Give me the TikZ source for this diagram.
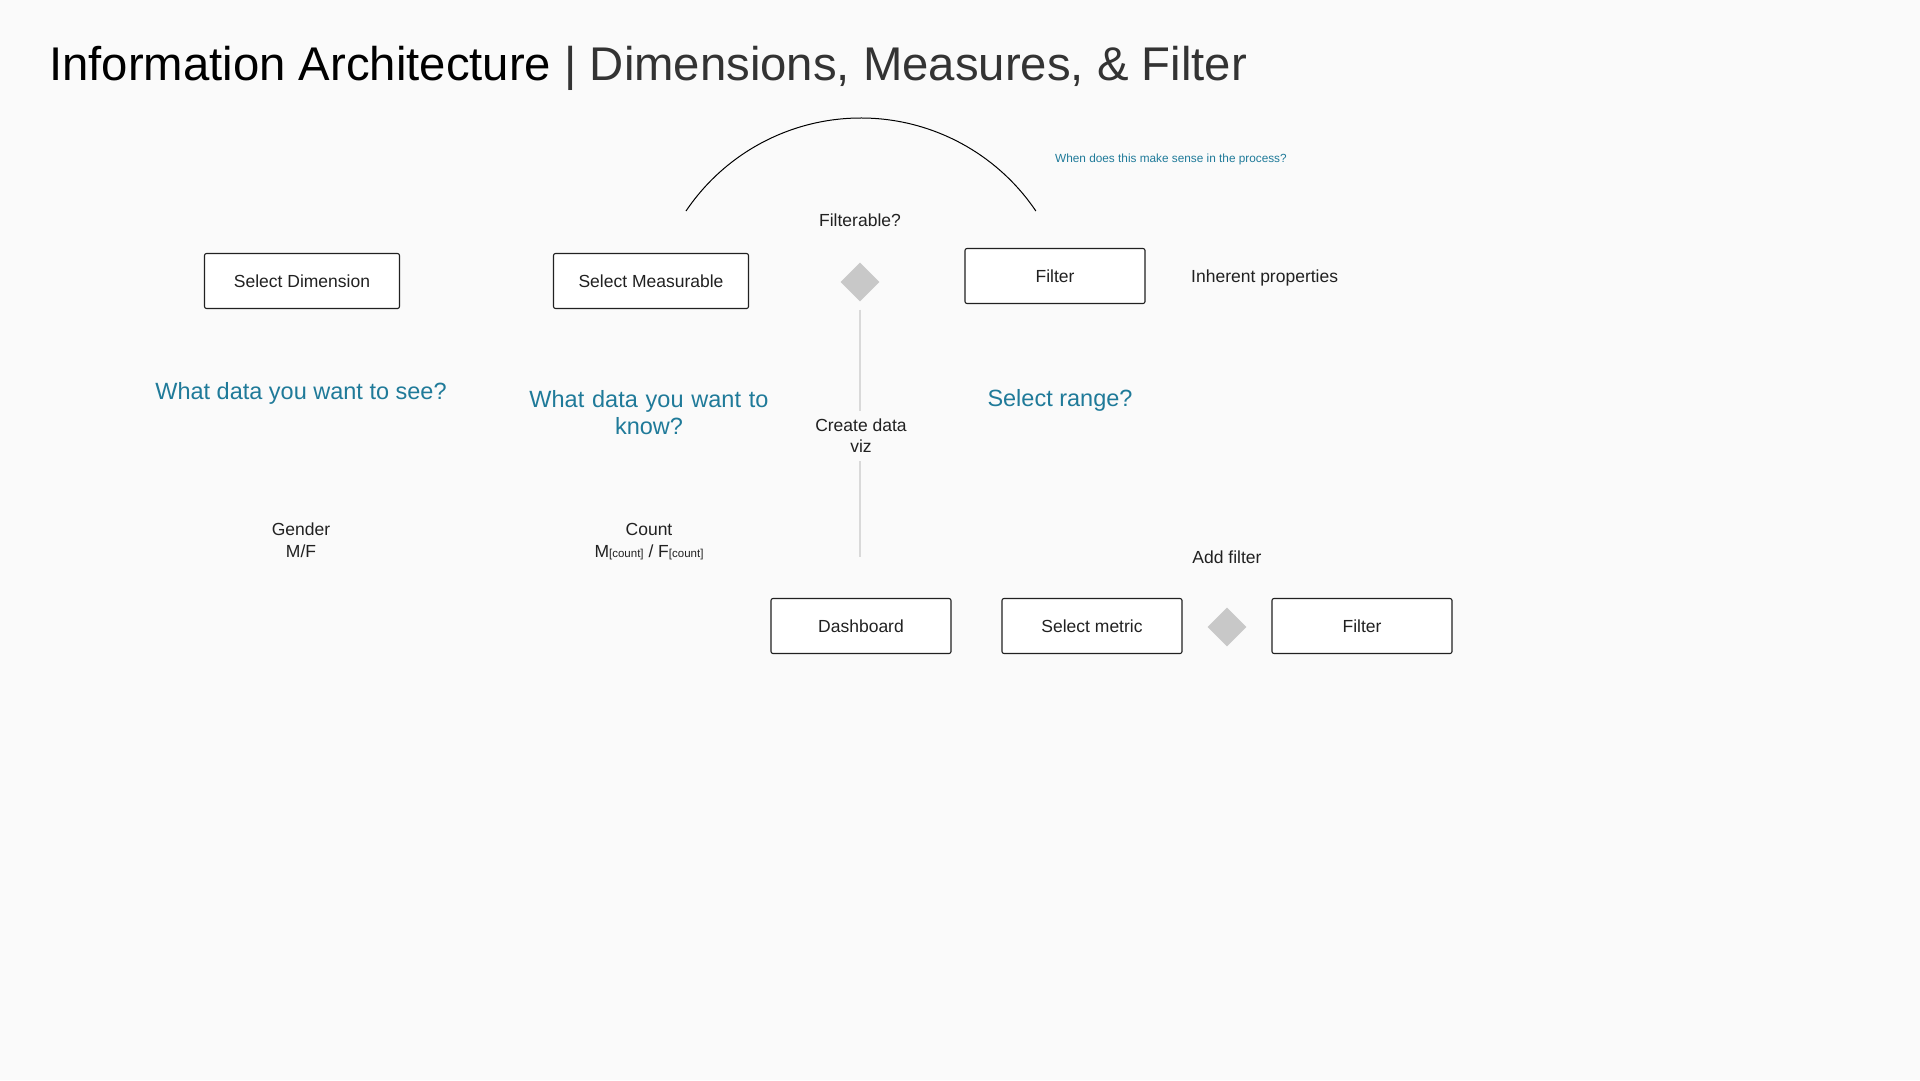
\documentclass[tikz,border=0pt]{standalone}
\usepackage{fontspec}
\setmainfont{Liberation Sans}
\usetikzlibrary{shapes.geometric}

\definecolor{bgcol}{HTML}{FAFAFA}
\definecolor{qteal}{HTML}{1F7A99}
\definecolor{inkgray}{HTML}{212121}
\definecolor{rulegray}{HTML}{D9D9D9}
\definecolor{diagray}{HTML}{C8C8C8}

\begin{document}
\begin{tikzpicture}[x=1pt, y=-1pt,
  stepbox/.style={draw=inkgray, line width=1.1pt, rounded corners=2pt, fill=white,
    minimum width=180pt, minimum height=55pt, inner sep=0pt,
    font=\fontsize{17.5}{21}\selectfont, text=inkgray},
  choice/.style={diamond, fill=diagray, minimum size=39pt, inner sep=0pt},
  plain/.style={font=\fontsize{17.5}{22}\selectfont, text=inkgray, align=center, inner sep=0pt},
  question/.style={font=\fontsize{23.5}{27}\selectfont, text=qteal, align=center, inner sep=0pt},
  vline/.style={rulegray, line width=1.2pt}]
\fill[bgcol] (0,0) rectangle (1920,1080);

% title
\node[anchor=base west, inner sep=0pt, font=\fontsize{47.3}{52}\selectfont, text=black]
  (title) at (49,80) {Information Architecture \textcolor{black!80}{| Dimensions, Measures, \& Filter}};

% arc over the filter question
\coordinate (arcl) at (686,211);
\draw[black, line width=1pt] (arcl) arc[start angle=-146, end angle=-34, radius=211] coordinate (arcr);
\node[anchor=west, inner sep=0pt, font=\fontsize{11.8}{13}\selectfont, text=qteal]
  (when) at (1055,159) {When does this make sense in the process?};

% top row
\node[stepbox, minimum width=195pt] (dim) at (302,281) {Select Dimension};
\node[stepbox, minimum width=195pt] (meas) at (651,281) {Select Measurable};
\node[choice] (d1) at (860,282) {};
\node[plain] (filterable) at (860,220) {Filterable?};
\node[stepbox] (filt1) at (1055,276) {Filter};
\node[plain, anchor=west] (inherent) at (1191,278) {Inherent properties};

% questions
\node[question] (q1) at (301,393) {What data you want to see?};
\node[question, text width=250pt] (q2) at (649,413) {What data you want to\\know?};
\node[question] (q3) at (1060,400) {Select range?};

% examples
\node[plain] (gender) at (301,540) {Gender\\M/F};
\node[plain] (count) at (649,542) {Count\\M{\fontsize{11.5}{13}\selectfont[count]} / F{\fontsize{11.5}{13}\selectfont[count]}};

% create data viz
\coordinate (vizend) at (860,557);
\draw[vline] (d1.south) ++(0,8) -- (vizend);
\node[plain, fill=bgcol, inner sep=8pt, font=\fontsize{17.5}{21}\selectfont] (viz) at (861,436) {Create data\\viz};

% bottom row
\node[stepbox] (dash) at (861,626) {Dashboard};
\node[stepbox] (metric) at (1092,626) {Select metric};
\node[choice] (d2) at (1227,627) {};
\node[stepbox] (filt2) at (1362,626) {Filter};
\node[plain] (addf) at (1227,557) {Add filter};
\end{tikzpicture}
\end{document}
